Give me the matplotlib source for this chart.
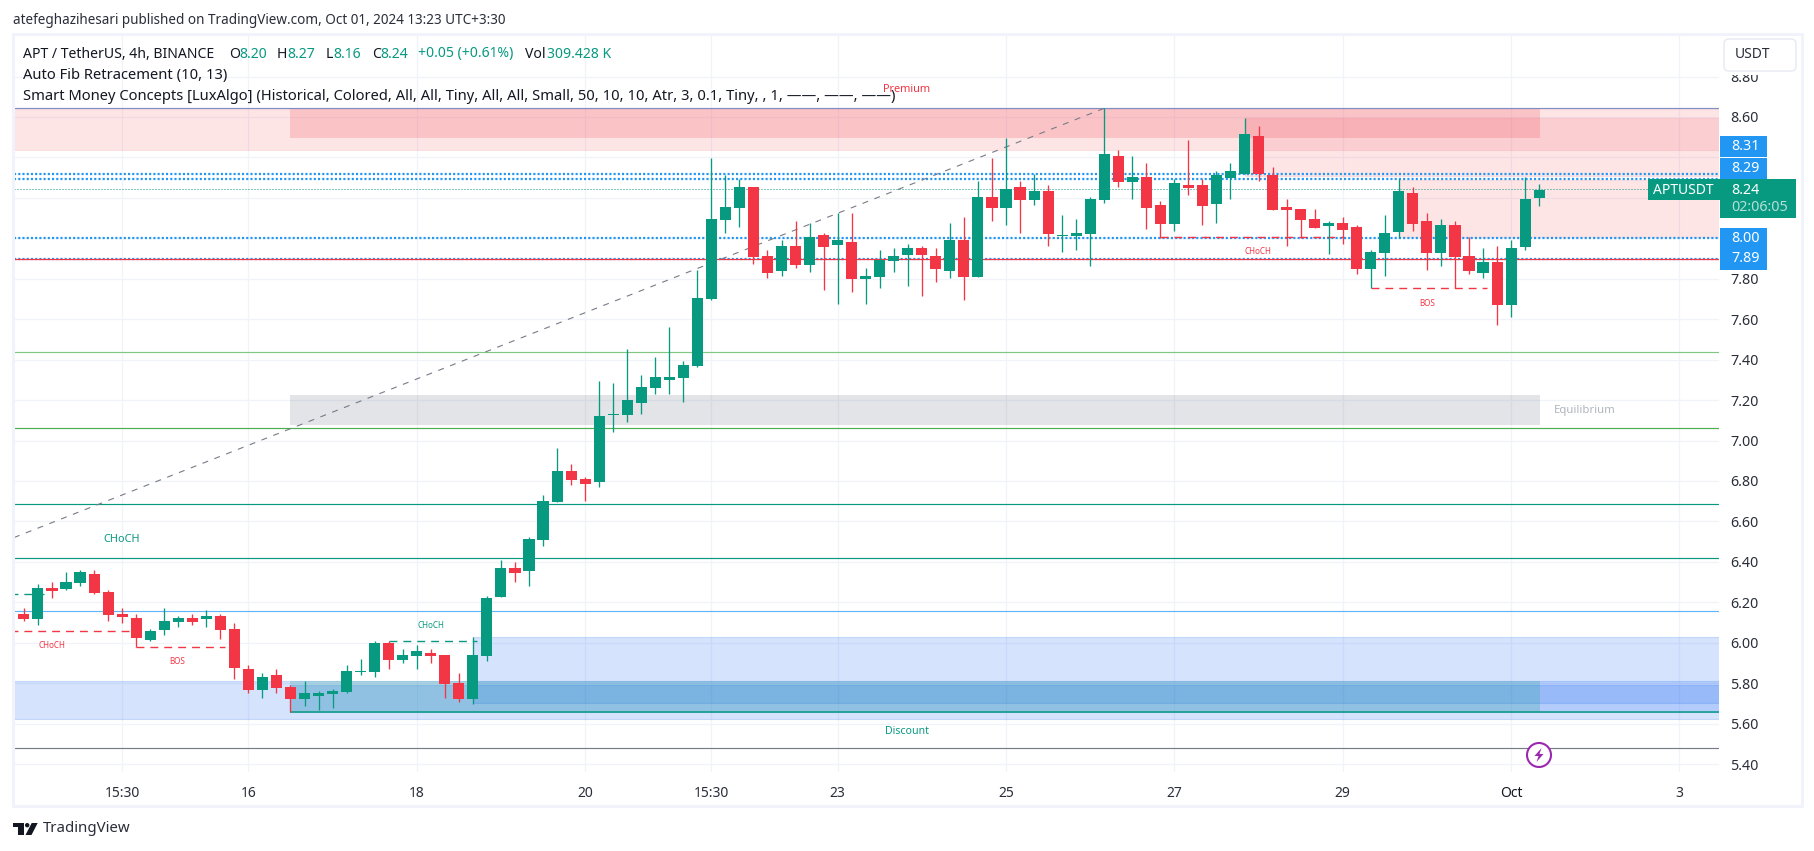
#!/usr/bin/env python3
# -*- coding: utf-8 -*-
"""
APT / USDT 4h candles with auto fib and smart money zones
"""

import numpy as np
import matplotlib
matplotlib.use('Agg')
import matplotlib.pyplot as plt
from matplotlib.colors import to_rgba
from matplotlib.patches import Rectangle, Polygon, Circle, FancyBboxPatch

plt.rcParams['font.family'] = ['Noto Sans', 'DejaVu Sans']

# candles, oldest first (index 0 is cut by the left edge of the pane)
opens = [6.130, 6.142, 6.117, 6.271, 6.266, 6.295, 6.340, 6.251, 6.142, 6.122,
         6.014, 6.063, 6.102, 6.122, 6.117, 6.132, 6.068, 5.870, 5.766, 5.840,
         5.781, 5.722, 5.737, 5.746, 5.756, 5.855, 5.855, 5.999, 5.915, 5.934,
         5.949, 5.939, 5.801, 5.722, 5.934, 6.226, 6.370, 6.355, 6.508, 6.696,
         6.849, 6.810, 6.795, 7.126, 7.126, 7.185, 7.260, 7.299, 7.309, 7.368,
         7.700, 8.090, 8.150, 8.254, 7.912, 7.838, 7.962, 7.868, 8.016, 7.967,
         7.982, 7.799, 7.809, 7.888, 7.917, 7.952, 7.912, 7.838, 7.992, 7.809,
         8.204, 8.150, 8.254, 8.189, 8.234, 8.011, 8.011, 8.021, 8.190, 8.407,
         8.278, 8.303, 8.165, 8.071, 8.264, 8.264, 8.170, 8.298, 8.318, 8.506,
         8.313, 8.155, 8.145, 8.096, 8.061, 8.076, 8.056, 7.848, 7.927, 8.031,
         8.224, 8.086, 7.927, 8.066, 7.912, 7.828, 7.883, 7.670, 7.957, 8.200]
closes = [6.155, 6.117, 6.271, 6.256, 6.300, 6.350, 6.246, 6.137, 6.127, 6.023,
          6.058, 6.107, 6.122, 6.102, 6.132, 6.063, 5.875, 5.766, 5.831, 5.776,
          5.722, 5.751, 5.751, 5.761, 5.860, 5.860, 5.999, 5.915, 5.939, 5.959,
          5.934, 5.796, 5.722, 5.939, 6.221, 6.370, 6.345, 6.513, 6.701, 6.849,
          6.805, 6.785, 7.121, 7.131, 7.200, 7.265, 7.314, 7.314, 7.373, 7.705,
          8.095, 8.155, 8.254, 7.908, 7.828, 7.962, 7.868, 8.006, 7.957, 7.992,
          7.799, 7.814, 7.894, 7.912, 7.952, 7.917, 7.848, 7.992, 7.809, 8.204,
          8.150, 8.244, 8.189, 8.234, 8.021, 8.016, 8.026, 8.194, 8.417, 8.278,
          8.303, 8.150, 8.071, 8.274, 8.249, 8.160, 8.313, 8.333, 8.516, 8.318,
          8.140, 8.140, 8.091, 8.051, 8.076, 8.041, 7.848, 7.932, 8.026, 8.234,
          8.071, 7.927, 8.066, 7.908, 7.838, 7.883, 7.670, 7.952, 8.194, 8.240]
highs = [6.155, 6.172, 6.290, 6.300, 6.350, 6.360, 6.360, 6.261, 6.172, 6.142,
         6.068, 6.172, 6.132, 6.142, 6.162, 6.142, 6.098, 5.890, 5.850, 5.870,
         5.791, 5.811, 5.761, 5.771, 5.890, 5.920, 6.009, 6.009, 5.969, 5.989,
         5.969, 5.939, 5.850, 6.028, 6.231, 6.409, 6.399, 6.523, 6.731, 6.963,
         6.884, 6.820, 7.294, 7.284, 7.453, 7.324, 7.413, 7.561, 7.393, 7.843,
         8.397, 8.313, 8.293, 8.254, 7.942, 7.992, 8.086, 8.076, 8.026, 8.125,
         8.125, 7.853, 7.942, 7.952, 7.972, 7.962, 7.952, 8.076, 8.105, 8.283,
         8.397, 8.496, 8.283, 8.318, 8.264, 8.115, 8.095, 8.204, 8.644, 8.437,
         8.407, 8.372, 8.185, 8.293, 8.486, 8.293, 8.333, 8.372, 8.595, 8.555,
         8.353, 8.194, 8.145, 8.145, 8.086, 8.105, 8.066, 7.942, 8.115, 8.293,
         8.254, 8.125, 8.096, 8.086, 8.006, 7.952, 7.962, 7.992, 8.303, 8.270]
lows = [6.130, 6.107, 6.088, 6.221, 6.261, 6.280, 6.241, 6.107, 6.098, 5.979,
        6.009, 6.038, 6.078, 6.088, 6.078, 6.018, 5.821, 5.751, 5.727, 5.751,
        5.657, 5.687, 5.667, 5.677, 5.751, 5.840, 5.831, 5.870, 5.900, 5.870,
        5.900, 5.727, 5.707, 5.697, 5.910, 6.226, 6.300, 6.280, 6.478, 6.696,
        6.780, 6.701, 6.770, 7.042, 7.092, 7.131, 7.230, 7.230, 7.190, 7.364,
        7.695, 8.026, 8.056, 7.873, 7.804, 7.814, 7.853, 7.833, 7.744, 7.675,
        7.734, 7.675, 7.754, 7.833, 7.764, 7.715, 7.784, 7.804, 7.695, 7.809,
        8.086, 8.066, 8.026, 8.165, 7.962, 7.932, 7.942, 7.863, 8.175, 8.254,
        8.194, 8.046, 8.002, 8.036, 8.214, 8.066, 8.076, 8.194, 8.318, 8.283,
        8.140, 7.962, 8.002, 8.051, 7.922, 7.972, 7.824, 7.754, 7.814, 8.002,
        8.036, 7.843, 7.863, 7.754, 7.824, 7.804, 7.571, 7.611, 7.942, 8.160]

# axis ticks (8.40, 8.20 and 8.00 sit under the price tags, so they carry no label)
price_ticks = [5.4, 5.6, 5.8, 6.0, 6.2, 6.4, 6.6, 6.8, 7.0, 7.2, 7.4, 7.6, 7.8, 8.0, 8.2, 8.4, 8.6, 8.8]
price_labels = ['5.40', '5.60', '5.80', '6.00', '6.20', '6.40', '6.60', '6.80', '7.00', '7.20',
                '7.40', '7.60', '7.80', '', '', '', '8.60', '8.80']
date_pos = [8, 17, 29, 41, 50, 59, 71, 83, 95, 107, 119]
date_labels = ['15:30', '16', '18', '20', '15:30', '23', '25', '27', '29', 'Oct', '3']

# fib levels
fib_prices = [8.643, 7.436, 7.060, 6.684, 6.417, 6.158, 5.479]
fib_colors = ['#7f8fc4', '#81c784', '#4caf50', '#089981', '#089981', '#64b5f6', '#787b86']

# dotted levels
dotted_prices = [8.318, 8.293, 8.002, 7.899]
last_close = 8.242
red_level = 7.896

# fib trend line (index, price)
fib_x = [0.29, 78]
fib_y = [6.52, 8.643]

# structure dashes
dash_x0 = [0, 0, 9, 27, 82, 97]
dash_x1 = [2.4, 9, 15.3, 33.3, 95, 105.3]
dash_y = [6.239, 6.056, 5.977, 6.007, 8.005, 7.753]
dash_colors = ['#089981', '#f23645', '#f23645', '#089981', '#f23645', '#f23645']

# swing low line
low_x0 = 20
low_price = 5.657

# zones: x0, x1, bottom, top
zone_x0 = [0, 20, 88, 99, 20, 0, 33, 20, 20]
zone_x1 = [125, 109.06, 125, 125, 109.06, 125, 125, 125, 109.06]
zone_lo = [8.438, 8.4975, 8.31, 8.008, 7.077, 5.621, 5.70, 5.657, 5.657]
zone_hi = [8.640, 8.640, 8.594, 8.29, 7.225, 5.809, 6.028, 5.79, 5.809]
zone_colors = ['#f23645', '#f23645', '#f23645', '#f23645', '#6f7a88', '#2d73f5', '#2d73f5', '#2d73f5', '#089981']
zone_alpha = [0.13, 0.19, 0.13, 0.13, 0.2, 0.2, 0.2, 0.2, 0.2]
zone_edge = [0.1, 0.0, 0.1, 0.1, 0.0, 0.2, 0.2, 0.2, 0.0]

GREEN = '#089981'
RED = '#f23645'
BLUE = '#2196f3'
TEXT = '#131722'

W, H = 1814, 851
fig = plt.figure(figsize=(W/100, H/100), dpi=100, facecolor='white')

# chart pane, in pixels of the figure
left, right, top, bottom = 14, 1719, 35, 772
ax = fig.add_axes([left/W, 1-bottom/H, (right-left)/W, (bottom-top)/H])
ax.set_xlim(0.293, 121.82)
ax.set_ylim(5.3606, 9.0055)
for s in ax.spines.values():
    s.set_visible(False)

ax.set_axisbelow(True)
ax.grid(color='#f0f3fa', linewidth=0.9)
ax.yaxis.tick_right()
ax.set_yticks(price_ticks, price_labels)
ax.set_xticks(date_pos, date_labels)
ax.tick_params(axis='y', length=0, pad=8, labelsize=10.3, labelcolor='#2a2e39')
ax.tick_params(axis='x', length=0, pad=10, labelsize=10, labelcolor='#2a2e39')
for lab in ax.get_xticklabels():
    if lab.get_text() == 'Oct':
        lab.set_fontweight('bold')
        lab.set_color(TEXT)

# zones
for i in range(len(zone_x0)):
    ax.add_patch(Rectangle((zone_x0[i], zone_lo[i]), zone_x1[i]-zone_x0[i], zone_hi[i]-zone_lo[i],
                           facecolor=to_rgba(zone_colors[i], zone_alpha[i]),
                           edgecolor=to_rgba(zone_colors[i], zone_edge[i]),
                           linewidth=0.8, zorder=1))

# levels
for p, c in zip(fib_prices, fib_colors):
    ax.axhline(p, color=c, linewidth=0.85, zorder=2)
ax.hlines(low_price, low_x0, 125, color=GREEN, linewidth=1.1, zorder=2)
ax.axhline(red_level, color=RED, linewidth=0.9, zorder=2.2)
for p in dotted_prices:
    ax.axhline(p, color=BLUE, linewidth=1.6, linestyle=(0, (0.95, 0.95)), zorder=2.1)
ax.axhline(last_close, color=GREEN, linewidth=0.72, linestyle=(0, (1, 2)), zorder=2.1)

# fib trend line
ax.plot(fib_x, fib_y, color='#787b86', linewidth=0.8, linestyle=(0, (5.4, 6)), zorder=2.3)

# structure dashes
for x0, x1, y, c in zip(dash_x0, dash_x1, dash_y, dash_colors):
    ax.plot([x0, x1], [y, y], color=c, linewidth=1.0, linestyle=(0, (5.7, 4.3)), zorder=2.3)

# candles
x = np.arange(len(opens))
o = np.array(opens)
c = np.array(closes)
cols = [GREEN if b >= a else RED for a, b in zip(opens, closes)]
ax.vlines(x, lows, highs, colors=cols, linewidth=0.95, zorder=3)
ax.bar(x, np.abs(c-o), bottom=np.minimum(o, c), width=0.79, color=cols, linewidth=0, zorder=3.1)

# everything else is placed in picture pixels on a clear overlay
ov = fig.add_axes([0, 0, 1, 1], zorder=5)
ov.set_xlim(0, W)
ov.set_ylim(H, 0)
ov.axis('off')
ov.patch.set_alpha(0)

ov.add_patch(Rectangle((12.5, 33.5), 1789, 772, fill=False, edgecolor='#f0f3fa', linewidth=2.2))


def txt(px, py, s, color=TEXT, size=10.6, **kw):
    kw.setdefault('ha', 'left')
    kw.setdefault('va', 'center')
    ov.text(px, py, s, color=color, fontsize=size, **kw)


txt(13, 20, 'atefeghazihesari published on TradingView.com, Oct 01, 2024 13:23 UTC+3:30', color='#2a2e39', size=9.73)

# legend
txt(23, 54, 'APT / TetherUS, 4h, BINANCE', size=10.1)
for px, s in zip([229.6, 277, 326, 372], ['O', 'H', 'L', 'C']):
    txt(px, 54, s, size=10.1)
for px, s in zip([239, 287, 333, 380, 418], ['8.20', '8.27', '8.16', '8.24', '+0.05 (+0.61%)']):
    txt(px, 54, s, color=GREEN, size=10.1)
txt(525, 54, 'Vol', size=10.1)
txt(547, 54, '309.428 K', color=GREEN, size=10.1)
txt(23, 75, 'Auto Fib Retracement (10, 13)')
txt(23, 97, 'Smart Money Concepts [LuxAlgo] (Historical, Colored, All, All, Tiny, All, All, Small, '
            '50, 10, 10, Atr, 3, 0.1, Tiny, , 1, \u2014\u2014, \u2014\u2014, \u2014\u2014)')

# structure labels
txt(907, 89, 'Premium', color=RED, size=7.9, ha='center')
txt(907, 731, 'Discount', color=GREEN, size=7.6, ha='center')
txt(1585, 410, 'Equilibrium', color='#b2b5be', size=8.2, ha='center')
txt(122, 539, 'CHoCH', color=GREEN, size=7.9, ha='center')
txt(52, 645, 'CHoCH', color=RED, size=5.8, ha='center')
txt(431, 625, 'CHoCH', color=GREEN, size=5.8, ha='center')
txt(177, 662, 'BOS', color=RED, size=5.8, ha='center')
txt(1258, 252, 'CHoCH', color=RED, size=5.8, ha='center')
txt(1427, 303, 'BOS', color=RED, size=5.8, ha='center')

# price tags
ov.add_patch(Rectangle((1720, 136), 46.5, 20.5, color=BLUE, linewidth=0))
ov.add_patch(Rectangle((1720, 158), 46.5, 21, color=BLUE, linewidth=0))
ov.add_patch(Rectangle((1720, 228), 46.5, 42, color=BLUE, linewidth=0))
ov.add_patch(Rectangle((1720, 179), 76, 39, color=GREEN, linewidth=0))
ov.add_patch(Rectangle((1648, 179), 71.5, 21, color=GREEN, linewidth=0))
for py, s in zip([146, 168, 238, 259, 190], ['8.31', '8.29', '8.00', '7.89', '8.24']):
    txt(1731, py, s, color='white', size=10.3)
txt(1731, 207.5, '02:06:05', color='#b5e0d9', size=10.3)
txt(1653, 190, 'APTUSDT', color='white', size=10.0)

# currency button, its white margin hides the top of the 8.80 label
ov.add_patch(Rectangle((1720, 36), 80, 39, color='white', linewidth=0))
ov.add_patch(FancyBboxPatch((1726, 41), 68, 28, boxstyle='round,pad=2,rounding_size=5',
                            facecolor='white', edgecolor='#e6e9f2', linewidth=1.0))
txt(1735, 54.5, 'USDT', color='#2a2e39', size=10.0)

# lightning badge
ov.add_patch(Circle((1539, 755), 12, facecolor='white', edgecolor='#9c27b0', linewidth=1.5))
ov.add_patch(Polygon([(1541.5, 748), (1534.5, 756), (1538.5, 756), (1536.5, 762),
                      (1543.5, 754), (1539.5, 754)], facecolor='#9c27b0', linewidth=0))

# logo
ov.add_patch(Polygon([(13, 823), (24, 823), (24, 835), (17.5, 835), (17.5, 827), (13, 827)],
                     facecolor=TEXT, linewidth=0))
ov.add_patch(Circle((27.2, 825.2), 2.2, facecolor=TEXT, linewidth=0))
ov.add_patch(Polygon([(37.7, 823), (31.5, 835), (25.5, 835), (31.7, 823)], facecolor=TEXT, linewidth=0))
txt(42.5, 829, 'TradingView', color='#2a2e39', size=10.8)

plt.savefig('out.png', dpi=100)
